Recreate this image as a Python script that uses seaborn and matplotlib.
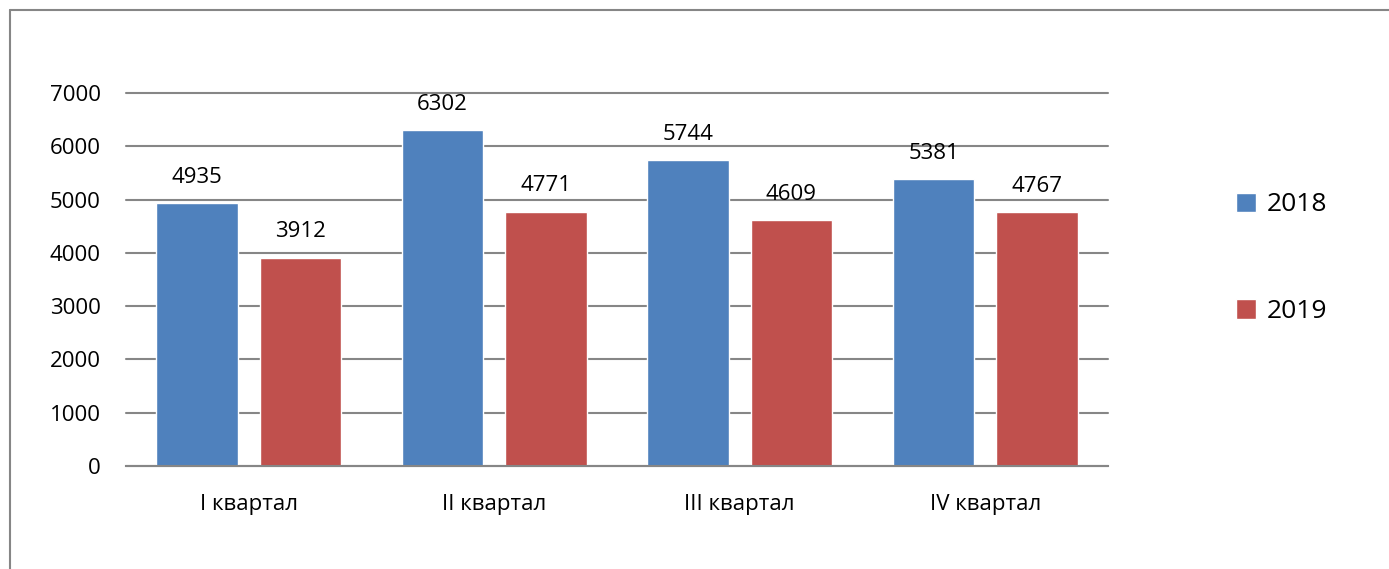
import pandas as pd
import numpy as np
import matplotlib.pyplot as plt
import seaborn as sns
from matplotlib.lines import Line2D

# Datos
quarters = ['I квартал', 'II квартал', 'III квартал', 'IV квартал']
years = ['2018', '2019']
values_2018 = [4935, 6302, 5744, 5381]
values_2019 = [3912, 4771, 4609, 4767]
colors = ['#4F81BD', '#C0504D']


def main():
    df = pd.DataFrame({
        'quarter': quarters * 2,
        'year': [years[0]] * 4 + [years[1]] * 4,
        'value': values_2018 + values_2019,
    })

    sns.set_theme(style='white')
    plt.rcParams['font.family'] = ['Open Sans', 'DejaVu Sans']
    plt.rcParams['text.color'] = 'black'
    plt.rcParams['xtick.color'] = 'black'
    plt.rcParams['ytick.color'] = 'black'

    fig = plt.figure(figsize=(13.89, 5.69), dpi=100)
    ax = fig.add_axes([0.0907, 0.181, 0.707, 0.6556])

    sns.barplot(data=df, x='quarter', y='value', hue='year', palette=colors,
                width=0.84, gap=0.21, saturation=1, ax=ax, legend=True)

    ax.set_ylim(0, 7000)
    ax.set_yticks(np.arange(0, 7001, 1000))
    ax.set_xlim(-0.5, 3.5)
    ax.yaxis.grid(True, color='#868686', linewidth=1.5)
    for gl in ax.get_ygridlines():
        gl.set_clip_on(False)
    ax.set_axisbelow(True)
    for side in ['left', 'right', 'top']:
        ax.spines[side].set_visible(False)
    ax.spines['bottom'].set_color('#868686')
    ax.spines['bottom'].set_linewidth(1.5)
    ax.set_xlabel('')
    ax.set_ylabel('')
    ax.tick_params(axis='y', labelsize=16, pad=18, length=0)
    ax.tick_params(axis='x', labelsize=16, pad=20, length=0)

    # Etiquetas de datos
    for cont in ax.containers:
        ax.bar_label(cont, padding=11, fontsize=16, color='black')

    # Leyenda
    handles, labels = ax.get_legend_handles_labels()
    ax.legend(handles, labels, loc='center left', bbox_to_anchor=(0.873, 0.546),
              bbox_transform=fig.transFigure, frameon=False, fontsize=19,
              handlelength=0.75, handleheight=0.75, handletextpad=0.4,
              labelspacing=3.1)

    # Marco del gráfico
    fig.add_artist(Line2D([10 / 1389, 10 / 1389], [0, 1 - 10 / 569],
                          transform=fig.transFigure, color='#868686', linewidth=1.5))
    fig.add_artist(Line2D([10 / 1389, 1], [1 - 10 / 569, 1 - 10 / 569],
                          transform=fig.transFigure, color='#868686', linewidth=1.5))

    fig.savefig('out.png', dpi=100)
    plt.close(fig)


if __name__ == "__main__":
    main()
